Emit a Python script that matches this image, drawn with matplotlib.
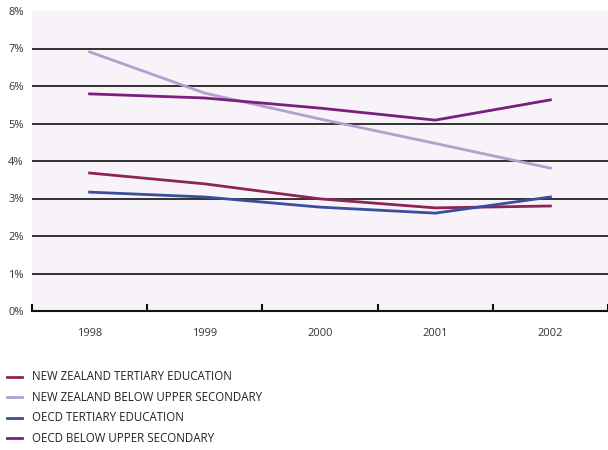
import matplotlib
matplotlib.use("Agg")
import matplotlib.pyplot as plt
from matplotlib.lines import Line2D
import numpy as np

years = ["1998", "1999", "2000", "2001", "2002"]
nz_tertiary = [3.68, 3.39, 2.99, 2.75, 2.80]
nz_below = [6.91, 5.81, 5.12, 4.47, 3.81]
oecd_tertiary = [3.17, 3.04, 2.77, 2.61, 3.04]
oecd_below = [5.79, 5.68, 5.41, 5.09, 5.63]

series = [
    ("NEW ZEALAND TERTIARY EDUCATION", nz_tertiary, "#8E2456"),
    ("NEW ZEALAND BELOW UPPER SECONDARY", nz_below, "#B3A0CC"),
    ("OECD TERTIARY EDUCATION", oecd_tertiary, "#3A4E9E"),
    ("OECD BELOW UPPER SECONDARY", oecd_below, "#7A1F80"),
]

plt.rcParams["font.family"] = ["Open Sans", "DejaVu Sans"]

W, H = 608, 450
fig = plt.figure(figsize=(W / 100, H / 100), dpi=100)
ax = fig.add_axes([32 / W, 139 / H, 576 / W, 300 / H])
ax.set_facecolor("#F8F3F8")

x = np.arange(len(years))
for label, vals, col in series:
    ax.plot(x, vals, color=col, lw=2, label=label, zorder=3)

ax.set_xlim(-0.5, len(years) - 0.5)
ax.set_ylim(0, 8)
ax.set_yticks(range(0, 9))
ax.set_yticklabels([f"{v}%" for v in range(0, 9)], fontsize=8, color="#333333")
for v in range(1, 8):
    ax.axhline(v, color="#222222", lw=1.3, zorder=1)
ax.tick_params(axis="y", length=0, pad=6)

ax.set_xticks(x)
ax.set_xticklabels(years, fontsize=8, color="#333333")
ax.tick_params(axis="x", length=0, pad=12)
ax.set_xticks(np.arange(-0.5, len(years)), minor=True)
ax.tick_params(axis="x", which="minor", direction="in", length=5, width=1.5, color="#111111")

for s in ["top", "right", "left"]:
    ax.spines[s].set_visible(False)
ax.spines["bottom"].set_color("#111111")
ax.spines["bottom"].set_linewidth(1.5)

# legend rows drawn by hand so the spacing matches
for i, (label, _, col) in enumerate(series):
    y = 1 - (377 + i * 20.4) / H
    fig.add_artist(Line2D([7 / W, 22 / W], [y, y], color=col, lw=2, transform=fig.transFigure))
    fig.text(32 / W, y, label, fontsize=8.3, color="#222222", va="center", ha="left")

fig.savefig("out.png", dpi=100)
